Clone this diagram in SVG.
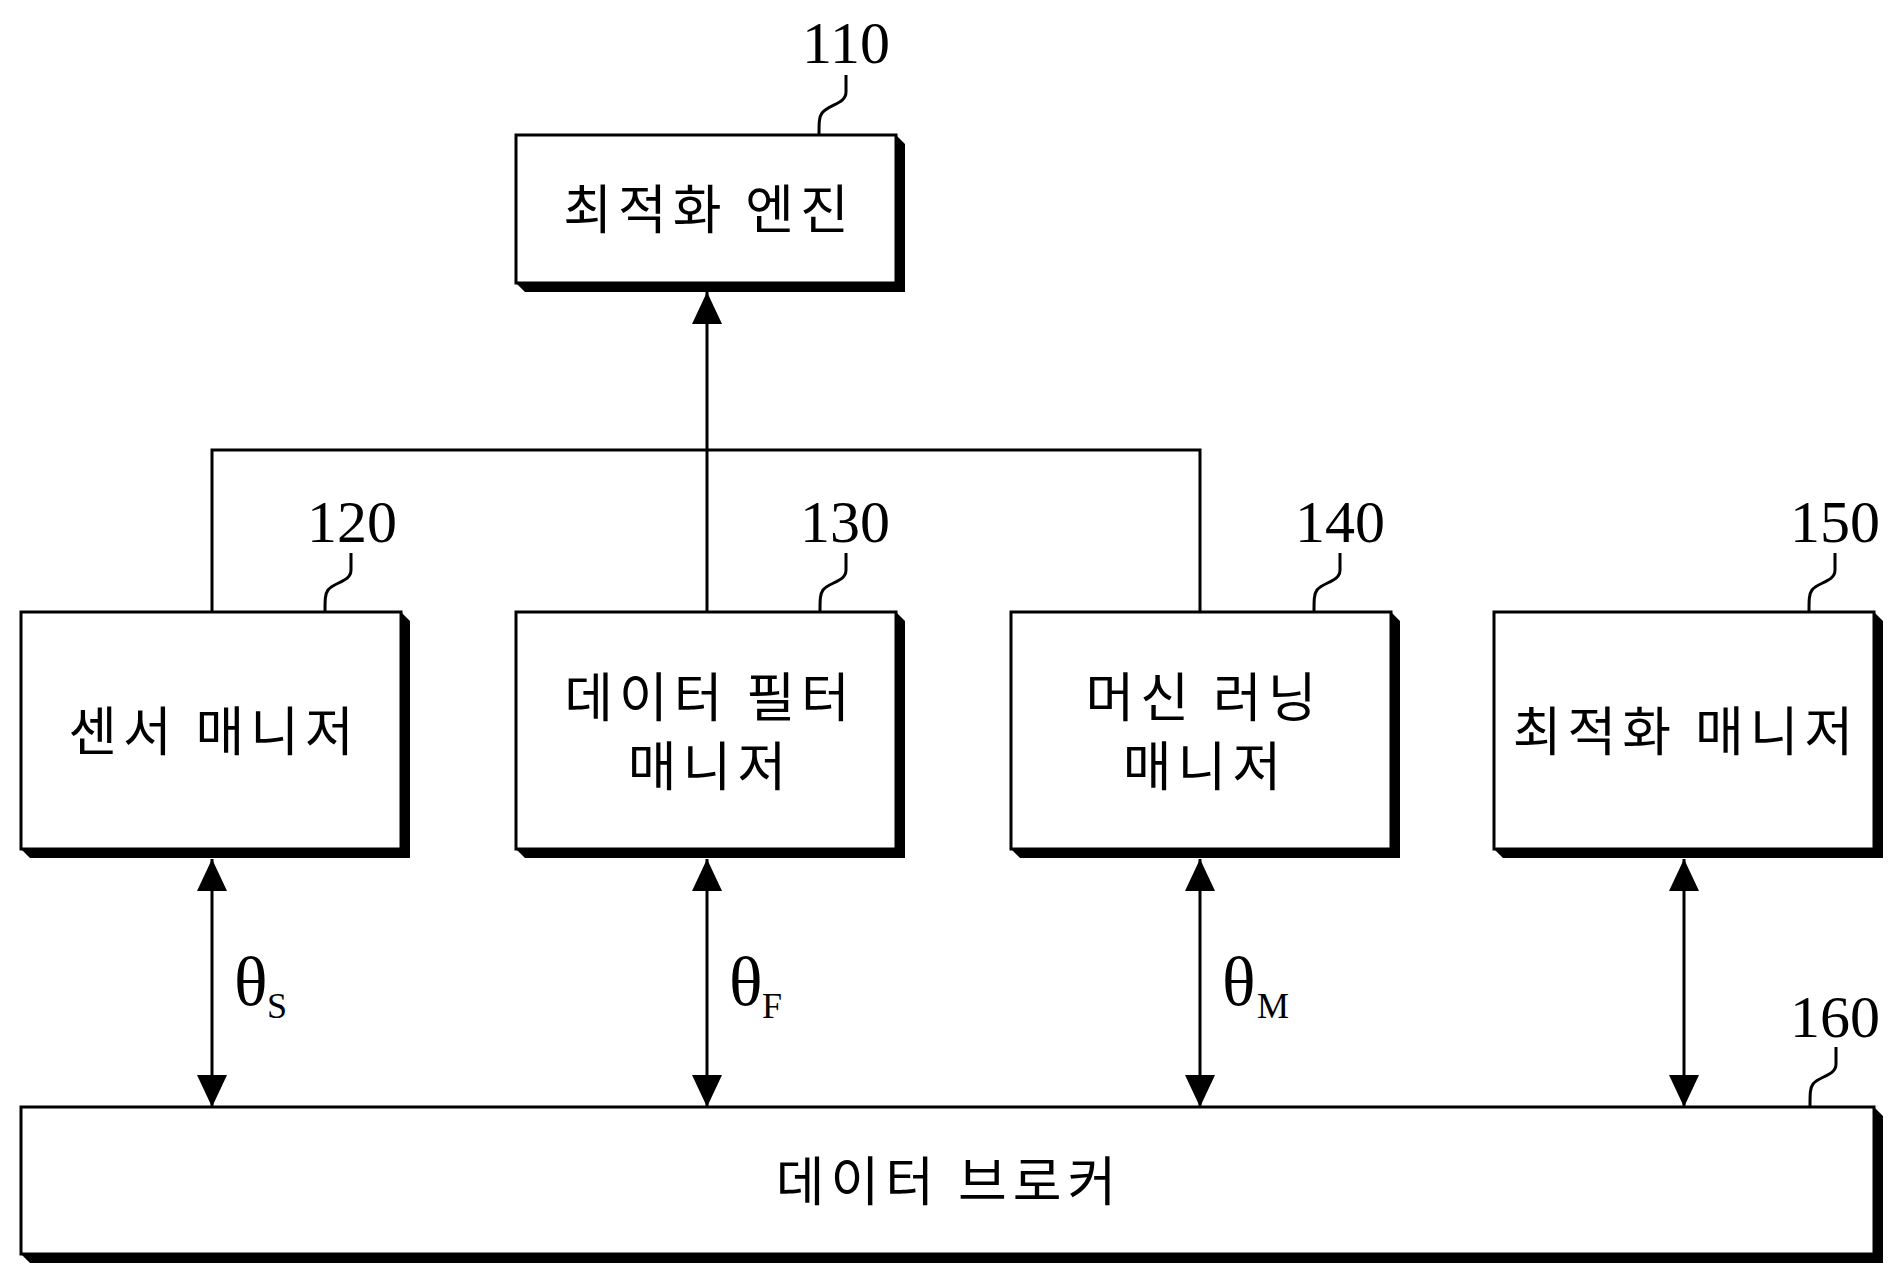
<svg xmlns="http://www.w3.org/2000/svg" width="1899" height="1287" viewBox="0 0 1899 1287">
<style>
.box{fill:#fff;stroke:#000;stroke-width:3}
.sh{fill:#000}
.kr{font-family:"Noto Sans CJK KR","Noto Sans",sans-serif;font-size:53px;fill:#000;text-anchor:middle;letter-spacing:6px}
.num{font-family:"Liberation Serif",serif;font-size:60px;fill:#000;text-anchor:middle}
.lead{fill:none;stroke:#000;stroke-width:3}
.con{fill:none;stroke:#000;stroke-width:3}
.th{font-family:"Liberation Serif",serif;font-size:70px;fill:#000}
.sub{font-family:"Liberation Serif",serif;font-size:36px;fill:#000}
</style>
<defs>
<marker id="ah" markerUnits="userSpaceOnUse" markerWidth="34" markerHeight="32" refX="32" refY="15" orient="auto-start-reverse" viewBox="0 0 34 32">
<path d="M0,0 L32,15 L0,30 z" fill="#000"/>
</marker>
</defs>
<rect width="1899" height="1287" fill="#fff"/>

<g id="connectors">
<polyline class="con" points="212,612 212,450 1200,450 1200,612"/>
<line class="con" x1="707" y1="612" x2="707" y2="292" marker-end="url(#ah)"/>
<line class="con" x1="212" y1="859" x2="212" y2="1107" marker-start="url(#ah)" marker-end="url(#ah)"/>
<line class="con" x1="707" y1="859" x2="707" y2="1107" marker-start="url(#ah)" marker-end="url(#ah)"/>
<line class="con" x1="1200" y1="859" x2="1200" y2="1107" marker-start="url(#ah)" marker-end="url(#ah)"/>
<line class="con" x1="1684" y1="859" x2="1684" y2="1107" marker-start="url(#ah)" marker-end="url(#ah)"/>
<text class="th" x="234" y="1005">θ</text><text class="sub" x="267" y="1018">S</text>
<text class="th" x="729" y="1005">θ</text><text class="sub" x="762" y="1018">F</text>
<text class="th" x="1222" y="1005">θ</text><text class="sub" x="1257" y="1018">M</text>
</g>

<g id="n110">
<polygon class="sh" points="896,135 905,144 905,292 525,292 516,283 896,283"/>
<rect class="box" x="516" y="135" width="380" height="148"/>
<text class="kr" x="709" y="229">최적화 엔진</text>
<text class="num" x="846" y="63">110</text>
<path class="lead" d="M846,75 l0,17 c0,12 -17,12 -24,21 c-3,4 -3,10 -3,22"/>
</g>

<g id="n120">
<polygon class="sh" points="401,612 410,621 410,858 30,858 21,849 401,849"/>
<rect class="box" x="21" y="612" width="380" height="237"/>
<text class="kr" x="214" y="751">센서 매니저</text>
<text class="num" x="352" y="542">120</text>
<path class="lead" d="M351,553 l0,17 c0,12 -17,12 -23,20 c-3,4 -3,10 -3,22"/>
</g>

<g id="n130">
<polygon class="sh" points="896,612 905,621 905,858 525,858 516,849 896,849"/>
<rect class="box" x="516" y="612" width="380" height="237"/>
<text class="kr" x="710" y="717">데이터 필터</text>
<text class="kr" x="710" y="786">매니저</text>
<text class="num" x="845" y="542">130</text>
<path class="lead" d="M846,553 l0,17 c0,12 -17,12 -23,20 c-3,4 -3,10 -3,22"/>
</g>

<g id="n140">
<polygon class="sh" points="1391,612 1400,621 1400,858 1020,858 1011,849 1391,849"/>
<rect class="box" x="1011" y="612" width="380" height="237"/>
<text class="kr" x="1204" y="717">머신 러닝</text>
<text class="kr" x="1205" y="786">매니저</text>
<text class="num" x="1340" y="542">140</text>
<path class="lead" d="M1340,553 l0,17 c0,12 -17,12 -23,20 c-3,4 -3,10 -3,22"/>
</g>

<g id="n150">
<polygon class="sh" points="1874,612 1883,621 1883,858 1503,858 1494,849 1874,849"/>
<rect class="box" x="1494" y="612" width="380" height="237"/>
<text class="kr" x="1686" y="751">최적화 매니저</text>
<text class="num" x="1835" y="542">150</text>
<path class="lead" d="M1835,553 l0,17 c0,12 -17,12 -23,20 c-3,4 -3,10 -3,22"/>
</g>

<g id="n160">
<polygon class="sh" points="1874,1107 1883,1116 1883,1263 30,1263 21,1254 1874,1254"/>
<rect class="box" x="21" y="1107" width="1853" height="147"/>
<text class="kr" x="949" y="1201">데이터 브로커</text>
<text class="num" x="1835" y="1037">160</text>
<path class="lead" d="M1836,1047 l0,17 c0,12 -17,12 -23,20 c-3,4 -3,10 -3,22"/>
</g>
</svg>
